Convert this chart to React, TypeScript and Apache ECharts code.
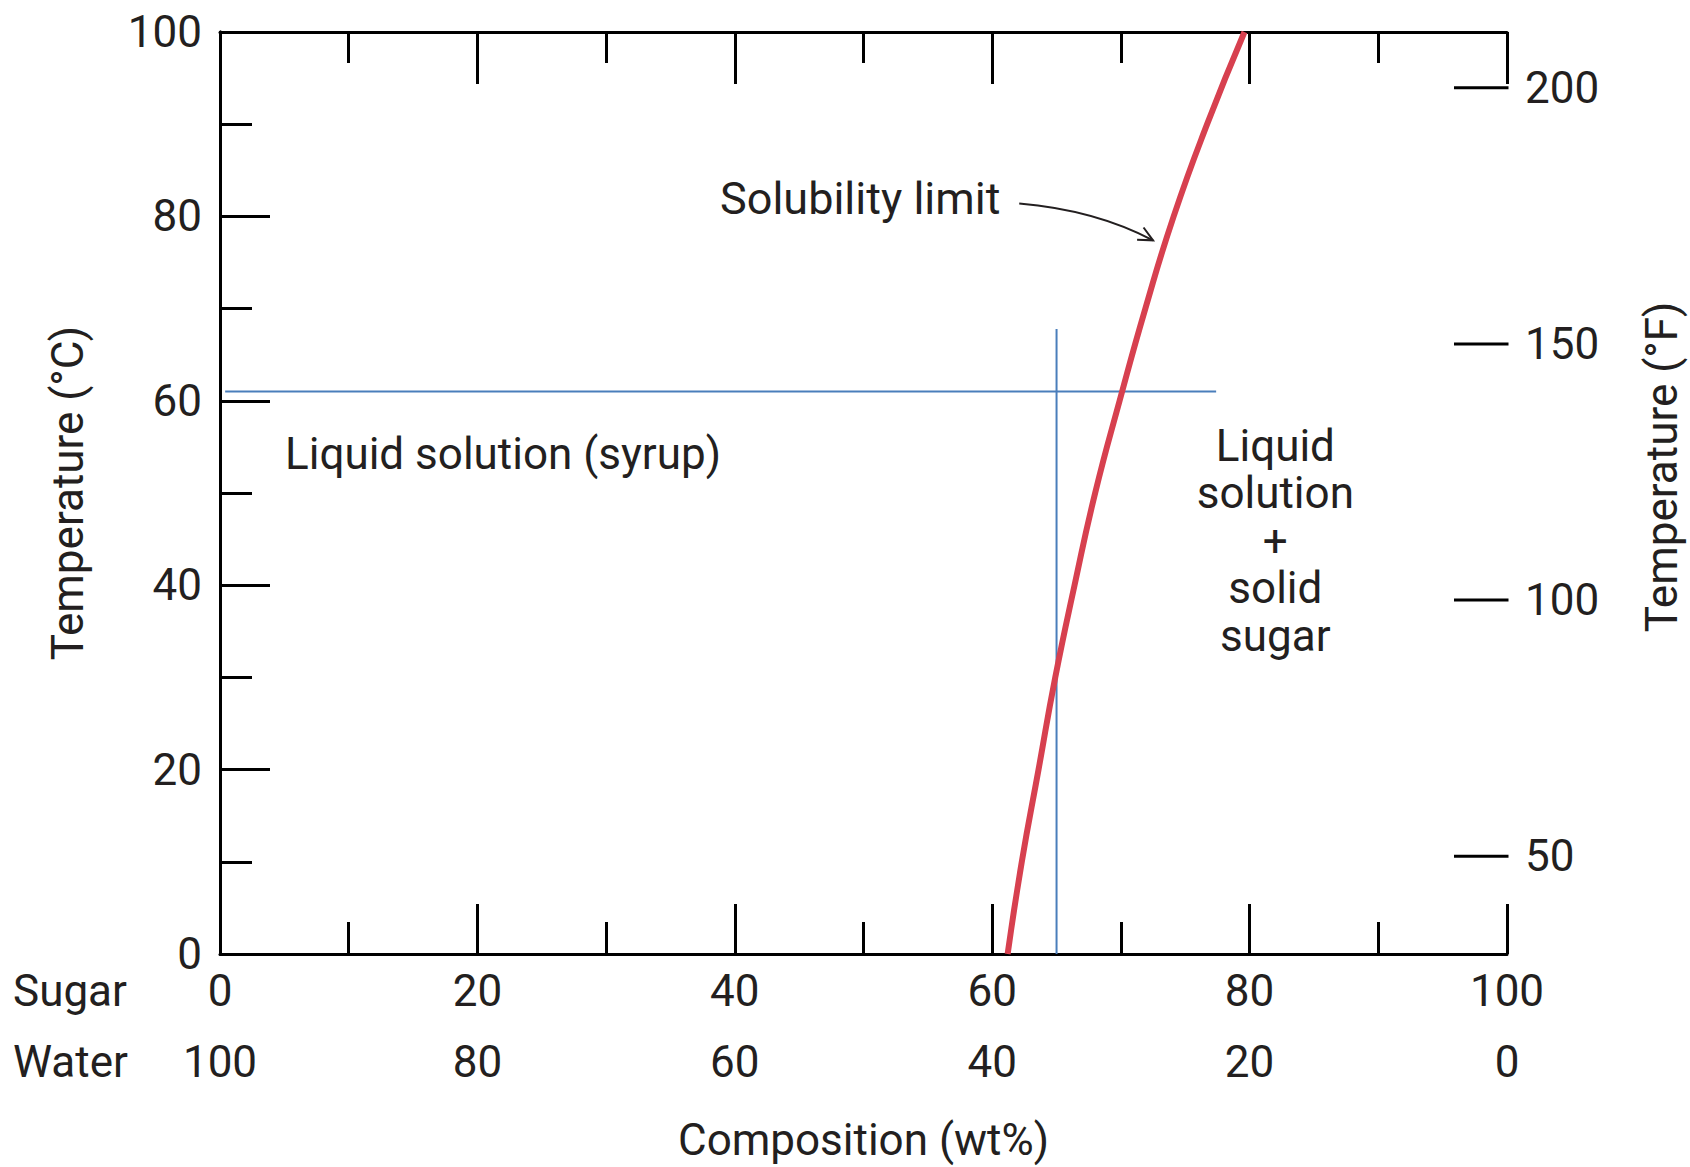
import React, { useEffect, useRef } from "react";
import * as echarts from "echarts";

// ---- data ----
const TEMP_C = [0, 10, 20, 30, 40, 50, 60, 70, 80, 90, 100];
const SOLUBILITY_WT = [61.2, 62.3, 63.6, 64.9, 66.4, 68.0, 69.9, 71.9, 74.1, 76.7, 79.6];
const F_TICKS = [50, 100, 150, 200];
const H_LINE_WT = [0.4, 77.4];
const H_LINE_T = 61;
const V_LINE_WT = 65;
const V_LINE_T = [0, 67.8];
const F_RANGE = [30.9, 210.9];

const TEXT = "#231f20";
const FONT = "Roboto";
const FS = 44;

export default function App() {
  const ref = useRef<HTMLDivElement>(null);

  useEffect(() => {
    if (!ref.current) return;
    const chart = echarts.init(ref.current, undefined, { renderer: "svg" });
    const black = { color: "#000", width: 3 };
    const labelFont = { fontFamily: FONT, fontSize: FS, color: TEXT };

    const option: any = {
      animation: false,
      grid: { left: 220, right: 183, top: 32, bottom: 213, outerBoundsMode: "none" },
      xAxis: [
        {
          type: "value",
          position: "bottom",
          min: 0,
          max: 100,
          interval: 20,
          axisLine: { show: true, lineStyle: black },
          axisTick: { show: true, inside: true, length: 50, lineStyle: black },
          minorTick: { show: true, splitNumber: 2, length: 32, lineStyle: black },
          splitLine: { show: false },
          minorSplitLine: { show: false },
          axisLabel: { ...labelFont, margin: 15 },
        },
        {
          type: "value",
          position: "top",
          min: 0,
          max: 100,
          interval: 20,
          axisLine: { show: true, lineStyle: black },
          axisTick: { show: true, inside: true, length: 52, lineStyle: black },
          minorTick: { show: true, splitNumber: 2, length: 31, lineStyle: black },
          splitLine: { show: false },
          axisLabel: { show: false },
        },
        {
          type: "value",
          position: "bottom",
          offset: 71,
          min: 0,
          max: 100,
          interval: 20,
          axisLine: { show: false },
          axisTick: { show: false },
          splitLine: { show: false },
          axisLabel: { ...labelFont, margin: 15, formatter: (v: number) => String(100 - v) },
          name: "Composition (wt%)",
          nameLocation: "middle",
          nameGap: 93,
          nameTextStyle: { ...labelFont },
        },
      ],
      yAxis: [
        {
          type: "value",
          position: "left",
          min: 0,
          max: 100,
          interval: 20,
          axisLine: { show: true, lineStyle: black },
          axisTick: { show: true, inside: true, length: 50, lineStyle: black },
          minorTick: { show: true, splitNumber: 2, length: 32, lineStyle: black },
          splitLine: { show: false },
          minorSplitLine: { show: false },
          axisLabel: { ...labelFont, margin: 18 },
          name: "Temperature (°C)",
          nameLocation: "middle",
          nameRotate: 90,
          nameGap: 130,
          nameTextStyle: { ...labelFont },
        },
        {
          type: "value",
          position: "right",
          min: F_RANGE[0],
          max: F_RANGE[1],
          axisLine: { show: true, lineStyle: black },
          axisTick: { show: false },
          splitLine: { show: false },
          axisLabel: { ...labelFont, margin: 18, customValues: F_TICKS },
        },
      ],
      series: [
        {
          type: "line",
          xAxisIndex: 0,
          yAxisIndex: 0,
          symbol: "none",
          data: H_LINE_WT.map((w) => [w, H_LINE_T]),
          lineStyle: { color: "#4a7ebb", width: 2 },
          z: 2,
        },
        {
          type: "line",
          xAxisIndex: 0,
          yAxisIndex: 0,
          symbol: "none",
          data: V_LINE_T.map((t) => [V_LINE_WT, t]),
          lineStyle: { color: "#4a7ebb", width: 2 },
          z: 2,
        },
        {
          type: "line",
          name: "Solubility limit",
          xAxisIndex: 0,
          yAxisIndex: 0,
          symbol: "none",
          smooth: true,
          data: TEMP_C.map((t, i) => [SOLUBILITY_WT[i], t]),
          lineStyle: { color: "#d7404f", width: 6 },
          z: 3,
        },
        {
          // °F tick marks on the right axis, drawn inward
          type: "custom",
          xAxisIndex: 0,
          yAxisIndex: 1,
          silent: true,
          clip: false,
          data: F_TICKS.map((f) => [100, f]),
          renderItem: (_params: any, api: any) => {
            const p = api.coord([api.value(0), api.value(1)]);
            return {
              type: "line",
              shape: { x1: p[0] + 1.5, y1: p[1], x2: p[0] - 53, y2: p[1] },
              style: { stroke: "#000", lineWidth: 3 },
            };
          },
          z: 4,
        },
      ],
    };
    chart.setOption(option);

    const px = (w: number, t: number) =>
      chart.convertToPixel({ xAxisIndex: 0, yAxisIndex: 0 }, [w, t]) as number[];

    const txt = (text: string, p: number[], align: string, extra: any = {}) => ({
      type: "text",
      x: p[0],
      y: p[1],
      style: {
        text,
        fontFamily: FONT,
        fontSize: FS,
        fill: TEXT,
        align,
        verticalAlign: "middle",
        ...extra,
      },
    });

    // arrow (start, control, tip) in data coordinates
    const a0 = px(62.1, 81.4);
    const ac = px(68.0, 80.7);
    const a1 = px(72.5, 77.4);
    const ang = Math.atan2(a1[1] - ac[1], a1[0] - ac[0]);
    const hl = 16;
    const spread = 0.45;
    const h1 = [a1[0] - hl * Math.cos(ang - spread), a1[1] - hl * Math.sin(ang - spread)];
    const h2 = [a1[0] - hl * Math.cos(ang + spread), a1[1] - hl * Math.sin(ang + spread)];

    chart.setOption({
      graphic: [
        txt("Solubility limit", px(38.85, 81.9), "left", { fontSize: 45 }),
        txt("Liquid solution (syrup)", px(5.05, 54.2), "left"),
        txt("Liquid\nsolution\n+\nsolid\nsugar", px(82.0, 44.8), "center", { lineHeight: 47.5 }),
        {
          type: "bezierCurve",
          shape: { x1: a0[0], y1: a0[1], cpx1: ac[0], cpy1: ac[1], x2: a1[0], y2: a1[1] },
          style: { stroke: TEXT, lineWidth: 2, fill: "none" },
        },
        {
          type: "polyline",
          shape: { points: [h1, a1, h2] },
          style: { stroke: TEXT, lineWidth: 2, fill: "none" },
        },
        txt("Sugar", [13, 991], "left"),
        txt("Water", [13, 1062], "left"),
        {
          type: "text",
          x: 1662,
          y: 467,
          rotation: Math.PI / 2,
          style: {
            text: "Temperature (°F)",
            fontFamily: FONT,
            fontSize: FS,
            fill: TEXT,
            align: "center",
            verticalAlign: "middle",
          },
        },
      ],
    });

    return () => chart.dispose();
  }, []);

  return (
    <div
      ref={ref}
      style={{ position: "absolute", left: 0, top: 0, width: 1690, height: 1167, background: "#fff" }}
    />
  );
}
